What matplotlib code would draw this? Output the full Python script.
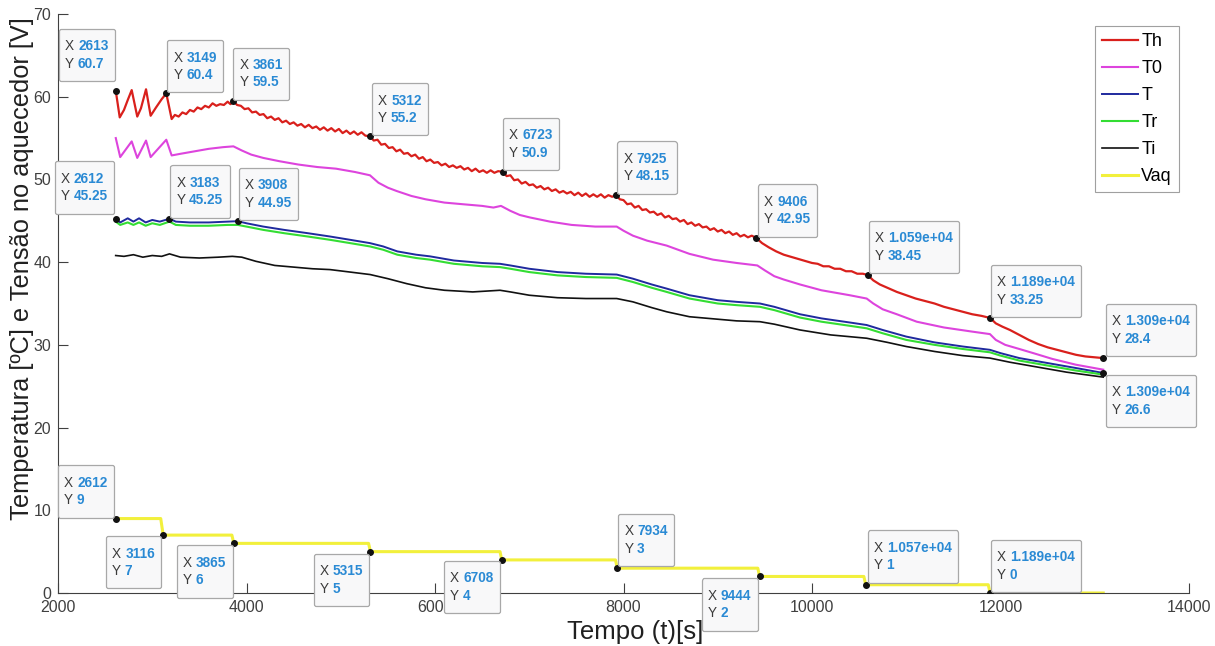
import numpy as np
import matplotlib
matplotlib.use('Agg')
import matplotlib.pyplot as plt
from matplotlib.offsetbox import TextArea, HPacker, VPacker, AnnotationBbox, DrawingArea

plt.rcParams['font.family'] = ['Liberation Sans', 'DejaVu Sans']

# ---- data ----
th_t = [2613, 2655, 2700, 2740, 2782, 2841, 2880, 2934, 2983, 3040, 3100, 3149, 3206,
        3240, 3280, 3320, 3360, 3400, 3440, 3480, 3520, 3560, 3600, 3640, 3680, 3720,
        3760, 3800, 3830, 3861, 3900, 3940, 3980, 4020, 4060, 4100, 4140, 4180, 4220,
        4260, 4300, 4340, 4380, 4420, 4460, 4500, 4540, 4580, 4620, 4660, 4700, 4740,
        4780, 4820, 4860, 4900, 4940, 4980, 5020, 5060, 5100, 5140, 5180, 5220, 5260,
        5312, 5350, 5390, 5430, 5470, 5510, 5550, 5590, 5630, 5670, 5710, 5750, 5790,
        5830, 5870, 5910, 5950, 5990, 6030, 6070, 6110, 6150, 6190, 6230, 6270, 6310,
        6350, 6390, 6430, 6470, 6510, 6550, 6590, 6630, 6670, 6723, 6760, 6800, 6840,
        6880, 6920, 6960, 7000, 7040, 7080, 7120, 7160, 7200, 7240, 7280, 7320, 7360,
        7400, 7440, 7480, 7520, 7560, 7600, 7640, 7680, 7720, 7760, 7800, 7840, 7880,
        7925, 7960, 8000, 8040, 8080, 8120, 8160, 8200, 8240, 8280, 8320, 8360, 8400,
        8440, 8480, 8520, 8560, 8600, 8640, 8680, 8720, 8760, 8800, 8840, 8880, 8920,
        8960, 9000, 9040, 9080, 9120, 9160, 9200, 9240, 9280, 9320, 9360, 9406, 9470,
        9540, 9620, 9700, 9760, 9820, 9880, 9940, 10000, 10060, 10120, 10180, 10240,
        10300, 10360, 10420, 10480, 10540, 10590, 10650, 10720, 10800, 10900, 11000,
        11100, 11200, 11300, 11400, 11500, 11600, 11700, 11800, 11890, 11950, 12020,
        12100, 12200, 12300, 12400, 12500, 12600, 12700, 12800, 12900, 13000, 13090]
th_v = [60.7, 57.5, 58.4, 59.6, 60.8, 57.6, 58.6, 60.9, 57.7, 58.7, 59.7, 60.4, 57.3,
        57.8, 57.6, 58.1, 57.9, 58.4, 58.2, 58.7, 58.5, 58.9, 58.7, 59.2, 58.9, 59.1,
        59.0, 59.4, 59.1, 59.5, 59.0, 58.9, 58.5, 58.6, 58.1, 58.2, 57.8, 57.9, 57.4,
        57.6, 57.2, 57.4, 56.9, 57.1, 56.7, 56.9, 56.5, 56.7, 56.3, 56.6, 56.2, 56.4,
        56.0, 56.3, 55.9, 56.2, 55.8, 56.1, 55.6, 55.9, 55.5, 55.8, 55.4, 55.7, 55.3,
        55.2, 54.7, 54.8, 54.2, 54.3, 53.8, 53.9, 53.4, 53.6, 53.1, 53.2, 52.8, 53.0,
        52.5, 52.7, 52.2, 52.4, 52.0, 52.1, 51.7, 51.9, 51.5, 51.7, 51.4, 51.6, 51.2,
        51.4, 51.0, 51.3, 50.9, 51.1, 50.8, 51.1, 50.8, 51.0, 50.9, 50.4, 50.5, 49.9,
        50.0, 49.5, 49.7, 49.3, 49.4, 49.0, 49.2, 48.8, 49.0, 48.6, 48.8, 48.4, 48.6,
        48.3, 48.5, 48.1, 48.4, 48.0, 48.3, 47.9, 48.2, 47.9, 48.2, 47.8, 48.1, 47.9,
        48.15, 47.6, 47.5, 47.0, 47.1, 46.6, 46.8, 46.3, 46.4, 46.0, 46.1, 45.7, 45.9,
        45.4, 45.6, 45.2, 45.3, 44.9, 45.1, 44.6, 44.8, 44.4, 44.6, 44.2, 44.3, 43.9,
        44.1, 43.7, 43.9, 43.5, 43.7, 43.3, 43.5, 43.1, 43.3, 43.0, 43.2, 42.95, 42.3,
        41.8, 41.3, 40.9, 40.7, 40.5, 40.3, 40.1, 39.9, 39.8, 39.5, 39.5, 39.2,
        39.2, 38.9, 38.9, 38.6, 38.6, 38.45, 37.8, 37.3, 36.9, 36.4, 36.0, 35.6, 35.3,
        35.0, 34.6, 34.3, 34.0, 33.7, 33.5, 33.25, 32.6, 32.2, 31.8, 31.2, 30.6, 30.1,
        29.7, 29.4, 29.1, 28.8, 28.6, 28.5, 28.4]

t0_t = [2613, 2660, 2782, 2841, 2934, 2983, 3149, 3206, 3300, 3450, 3600, 3750, 3861,
        3950, 4050, 4178, 4350, 4550, 4750, 4950, 5150, 5310, 5400, 5500, 5593, 5750,
        5900, 6100, 6297, 6500, 6620, 6700, 6800, 6900, 7008, 7220, 7450, 7700, 7928,
        8000, 8100, 8250, 8458, 8700, 8950, 9200, 9420, 9500, 9600, 9700, 9873, 10100,
        10400, 10580, 10650, 10750, 10900, 11111, 11400, 11700, 11888, 11950, 12050,
        12200, 12348, 12550, 12800, 13090]
t0_v = [55.0, 52.7, 54.6, 52.6, 54.7, 52.7, 54.8, 52.9, 53.1, 53.4, 53.7, 53.9, 54.0,
        53.5, 53.0, 52.6, 52.2, 51.8, 51.5, 51.3, 50.9, 50.5, 49.6, 49.0, 48.6, 48.0,
        47.6, 47.2, 47.0, 46.8, 46.6, 46.8, 46.2, 45.7, 45.4, 44.9, 44.5, 44.3, 44.3,
        43.8, 43.2, 42.6, 42.0, 41.0, 40.3, 39.9, 39.6, 39.0, 38.3, 37.9, 37.3, 36.6,
        36.0, 35.6, 35.0, 34.3, 33.7, 32.8, 32.1, 31.6, 31.3, 30.6, 30.0, 29.5, 29.0,
        28.3, 27.6, 27.0]

t_t = [2612, 2660, 2740, 2800, 2860, 2930, 3000, 3080, 3183, 3250, 3400, 3600, 3800,
       3908, 4000, 4178, 4400, 4650, 4886, 5100, 5310, 5450, 5600, 5800, 5947, 6200,
       6500, 6690, 6800, 7000, 7300, 7600, 7928, 8100, 8300, 8458, 8700, 9000, 9200,
       9448, 9600, 9873, 10100, 10403, 10580, 10750, 11000, 11300, 11600, 11888, 12000,
       12200, 12500, 12800, 13090]
t_v = [45.25, 44.8, 45.3, 44.9, 45.3, 44.8, 45.1, 44.9, 45.25, 44.9, 44.8, 44.8, 44.9,
       44.95, 44.7, 44.3, 43.9, 43.5, 43.1, 42.7, 42.3, 41.9, 41.3, 40.9, 40.7, 40.2,
       39.9, 39.8, 39.6, 39.2, 38.8, 38.6, 38.5, 38.0, 37.3, 36.8, 36.0, 35.4, 35.2,
       35.0, 34.6, 33.7, 33.2, 32.7, 32.4, 31.8, 31.0, 30.3, 29.8, 29.4, 29.0, 28.4,
       27.8, 27.2, 26.6]

tr_t = [2612, 2660, 2740, 2800, 2860, 2930, 3000, 3080, 3183, 3250, 3400, 3600, 3800,
        3908, 4000, 4178, 4400, 4650, 4886, 5100, 5310, 5450, 5600, 5800, 5947, 6200,
        6500, 6690, 6800, 7000, 7300, 7600, 7928, 8100, 8300, 8458, 8700, 9000, 9200,
        9448, 9600, 9873, 10100, 10403, 10580, 10750, 11000, 11300, 11600, 11888, 12000,
        12200, 12500, 12800, 13090]
tr_v = [44.9, 44.5, 44.8, 44.5, 44.8, 44.4, 44.7, 44.5, 44.9, 44.5, 44.4, 44.4, 44.5,
        44.5, 44.3, 43.9, 43.5, 43.1, 42.7, 42.3, 41.9, 41.5, 40.9, 40.5, 40.3, 39.8,
        39.5, 39.4, 39.2, 38.8, 38.4, 38.2, 38.1, 37.6, 36.9, 36.4, 35.6, 35.0, 34.8,
        34.6, 34.2, 33.3, 32.8, 32.3, 32.0, 31.4, 30.6, 30.0, 29.5, 29.1, 28.7, 28.1,
        27.5, 26.9, 26.4]

ti_t = [2612, 2700, 2800, 2900, 3000, 3100, 3183, 3300, 3500, 3700, 3850, 3950, 4100,
        4300, 4500, 4700, 4886, 5100, 5312, 5500, 5700, 5900, 6100, 6400, 6690, 6800,
        7000, 7300, 7600, 7928, 8100, 8300, 8458, 8700, 9000, 9200, 9448, 9600, 9873,
        10200, 10580, 10800, 11000, 11300, 11600, 11888, 12100, 12400, 12700, 13090]
ti_v = [40.8, 40.7, 40.9, 40.6, 40.8, 40.7, 41.0, 40.6, 40.5, 40.6, 40.7, 40.6, 40.1,
        39.6, 39.4, 39.2, 39.1, 38.8, 38.5, 38.0, 37.4, 36.9, 36.6, 36.4, 36.6, 36.4,
        36.0, 35.7, 35.6, 35.6, 35.2, 34.5, 34.0, 33.4, 33.1, 32.9, 32.8, 32.5, 31.8,
        31.2, 30.8, 30.3, 29.8, 29.2, 28.7, 28.4, 27.9, 27.3, 26.7, 26.1]

vaq_t = [2612, 3090, 3116, 3845, 3865, 5295, 5315, 6690, 6708, 7915, 7934, 9425, 9444,
         10550, 10570, 11870, 11890, 13090]
vaq_v = [9, 9, 7, 7, 6, 6, 5, 5, 4, 4, 3, 3, 2, 2, 1, 1, 0, 0]

labels = ['Th', 'T0', 'T', 'Tr', 'Ti', 'Vaq']
colors = ['#d9201c', '#dd44dd', '#1f2a9e', '#33dd33', '#111111', '#f2f03c']

# datatips: x, y, side of the box relative to the point, pixel nudge
tip_x = [2613, 3149, 3861, 5312, 6723, 7925, 9406, 10590, 11890, 13090, 13090,
         2612, 3183, 3908,
         2612, 3116, 3865, 5315, 6708, 7934, 9444, 10570, 11890]
tip_y = [60.7, 60.4, 59.5, 55.2, 50.9, 48.15, 42.95, 38.45, 33.25, 28.4, 26.6,
         45.25, 45.25, 44.95,
         9, 7, 6, 5, 4, 3, 2, 1, 0]
tip_side = ['ul', 'ur', 'ur', 'ur', 'ur', 'ur', 'ur', 'ur', 'ur', 'ur', 'lr',
            'ul', 'ur', 'ur',
            'ul', 'll', 'll', 'll', 'll', 'ur', 'll', 'ur', 'ur']
tip_nudge = [(-1, 10), (1, 1), (0, 1), (2, 1), (0, 2), (1, 1), (2, 1), (1, 2), (1, 1), (3, 2), (3, -2),
             (-2, 5), (1, 1), (1, 1),
             (-2, 1), (-2, -1), (-1, -2), (-1, -2), (-2, -1), (1, 2), (-2, -2), (2, 2), (1, 1)]

fig = plt.figure(figsize=(12.15, 6.46), dpi=100)
ax = fig.add_axes([58 / 1215, 53 / 646, 1131 / 1215, 579 / 646])

series = [(th_t, th_v, 1.6), (t0_t, t0_v, 1.5), (t_t, t_v, 1.4),
          (tr_t, tr_v, 1.5), (ti_t, ti_v, 1.2), (vaq_t, vaq_v, 2.2)]
for (xs, ys, lw), lab, c in zip(series, labels, colors):
    ax.plot(xs, ys, color=c, lw=lw, label=lab)

ax.plot(tip_x, tip_y, 'o', color='#111111', ms=4, zorder=5)

pad_pt = 4.5
for x, y, side, (nx, ny) in zip(tip_x, tip_y, tip_side, tip_nudge):
    rows = []
    for lab, val in (('X', x), ('Y', y)):
        a = TextArea(lab + ' ', textprops=dict(color='#3a3a3a', fontsize=9.8))
        b = TextArea('{:.4g}'.format(val), textprops=dict(color='#2a8ad4', fontsize=9.8, fontweight='bold'))
        rows.append(HPacker(children=[a, b], align='baseline', pad=0, sep=0))
    inner = VPacker(children=rows, align='left', pad=0, sep=2.5)
    box = VPacker(children=[DrawingArea(0, 3.0), inner, DrawingArea(0, 3.0)], align='left', pad=0, sep=0)
    sx = 1 if side[1] == 'r' else -1
    sy = 1 if side[0] == 'u' else -1
    align = (0 if sx > 0 else 1, 0 if sy > 0 else 1)
    ab = AnnotationBbox(box, (x, y), xybox=(nx * 0.72 + sx * pad_pt, ny * 0.72 + sy * pad_pt),
                        xycoords='data', boxcoords='offset points', box_alignment=align,
                        bboxprops=dict(boxstyle='round,pad=0.45,rounding_size=0.15',
                                       fc='#f8f8f9', ec='#a8a8a8', lw=0.9),
                        zorder=6)
    ax.add_artist(ab)

ax.set_xlim(2000, 14000)
ax.set_ylim(0, 70)
ax.set_xticks(np.arange(2000, 14001, 2000))
ax.set_yticks(np.arange(0, 71, 10))
ax.spines['top'].set_visible(False)
ax.spines['right'].set_visible(False)
for s in ('left', 'bottom'):
    ax.spines[s].set_color('#404040')
    ax.spines[s].set_linewidth(0.8)
ax.tick_params(direction='in', length=7, width=0.8, colors='#404040', labelsize=11.5, pad=5)

ax.set_xlabel('Tempo (t)[s]', fontsize=18.5, color='#202020')
ax.set_ylabel('Temperatura [ºC] e Tensão no aquecedor [V]', fontsize=18.3, color='#202020')
ax.xaxis.set_label_coords((635 - 58) / 1131, -(632 - 593) / 579)
ax.yaxis.set_label_coords(-(58 - 22) / 1131, (593 - 269) / 579)
ax.xaxis.label.set_va('center')
ax.yaxis.label.set_va('center')

leg = ax.legend(loc='upper right', bbox_to_anchor=((1179 - 58) / 1131, (593 - 26) / 579),
                borderaxespad=0, fontsize=13, handlelength=2.0, handletextpad=0.15,
                labelspacing=0.55, fancybox=False, framealpha=1, edgecolor='#a0a0a0',
                borderpad=0.4)
leg.get_frame().set_linewidth(0.8)

fig.savefig('out.png', dpi=100)
